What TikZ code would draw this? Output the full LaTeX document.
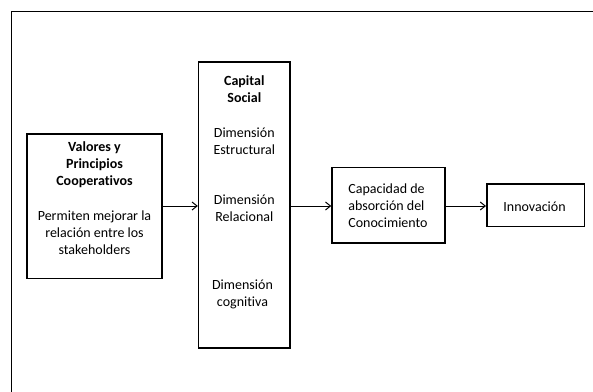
\documentclass[tikz,border=0pt]{standalone}
\usepackage{fontspec}
\setmainfont[Ligatures=NoCommon]{Carlito}
\usetikzlibrary{arrows.meta}

\begin{document}
\begin{tikzpicture}[x=1pt,y=-1pt,
  box/.style={draw, line width=1.5pt, inner sep=0pt},
  txt/.style={align=center, font=\fontsize{14}{17}\selectfont, inner sep=0pt},
  hd/.style={txt, font=\fontsize{14}{17}\selectfont\bfseries},
  link/.style={-{Straight Barb[length=5pt,width=8pt]}, line width=1pt}]

% page and outer frame (open to the right and bottom)
\useasboundingbox (0,0) rectangle (593,391);
\clip (0,0) rectangle (593,391);
\draw[line width=1.5pt] (11.5,11.5) rectangle (610,410);

% boxes
\node[box, minimum width=134.7pt, minimum height=144.7pt] (val) at (94.5,206.3) {};
\node[box, minimum width=91.4pt, minimum height=286pt] (cap) at (244.3,205) {};
\node[box, minimum width=112.8pt, minimum height=75.7pt] (abs) at (388.4,205.2) {};
\node[box, minimum width=97.5pt, minimum height=42.3pt] (inn) at (535.5,205.2) {};

% texts
\node[hd] (valT) at (94.5,164.7) {Valores y\\Principios\\Cooperativos};
\node[txt] (valB) at (94.5,233) {Permiten mejorar la\\relación entre los\\stakeholders};

\node[hd] (capT) at (244.3,89) {Capital\\Social};
\node[txt] (dimE) at (244.3,141) {Dimensión\\Estructural};
\node[txt] (dimR) at (244.3,208.5) {Dimensión\\Relacional};
\node[txt] (dimC) at (242.5,294.5) {Dimensión\\cognitiva};

\node[txt, align=left] (absT) at (388,206) {Capacidad de\\absorción del\\Conocimiento};
\node[txt] (innT) at (534.5,206.5) {Innovación};

% connectors, all on one horizontal line
\coordinate (lvl) at (0,206);
\draw[link] (val.east |- lvl) -- (cap.west |- lvl);
\draw[link] (cap.east |- lvl) -- (abs.west |- lvl);
\draw[link] (abs.east |- lvl) -- (inn.west |- lvl);
\end{tikzpicture}
\end{document}
